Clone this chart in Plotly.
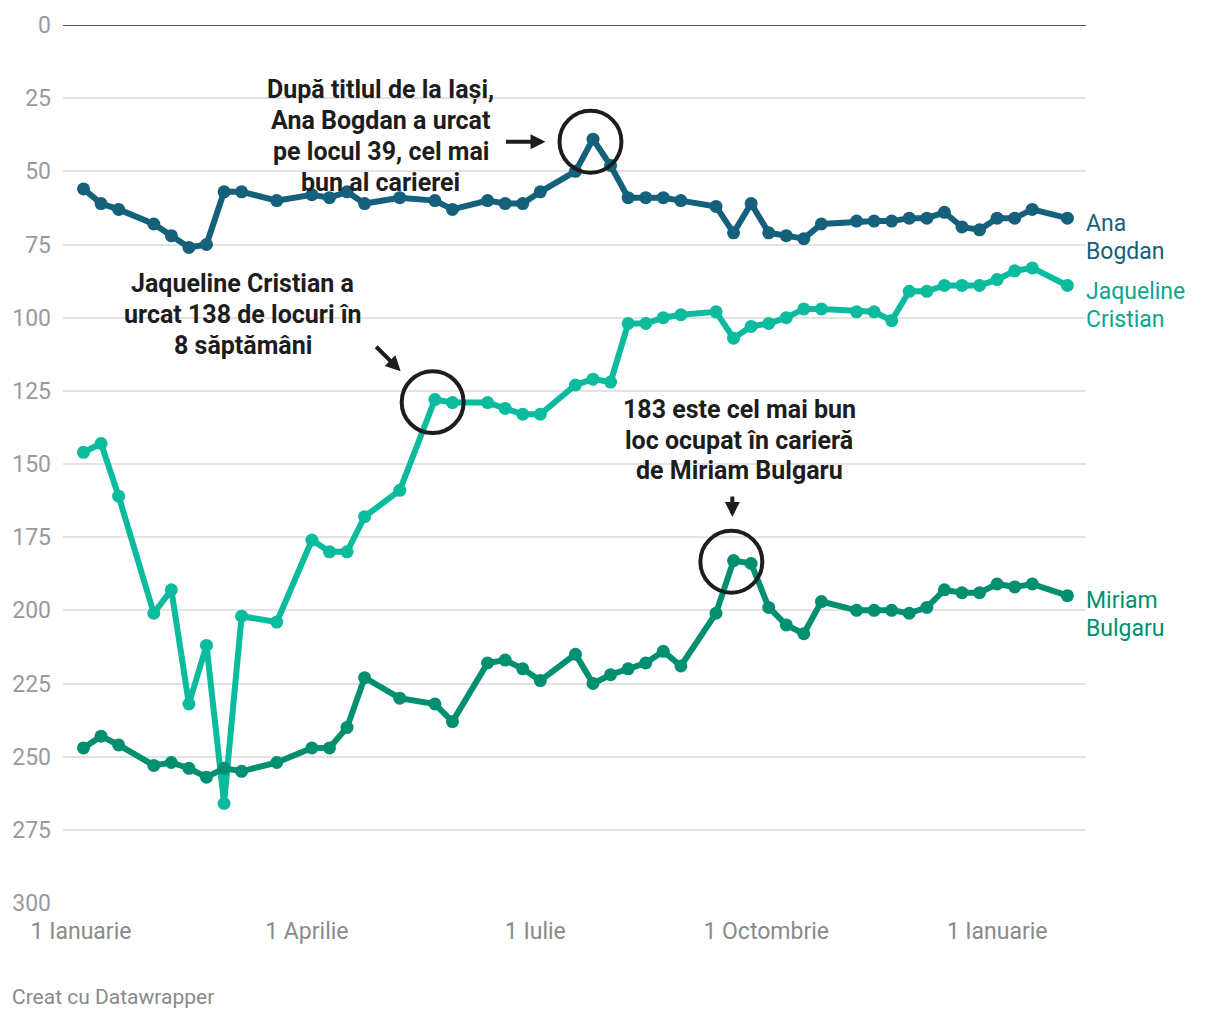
import plotly.graph_objects as go

dates = [
    "2023-01-02", "2023-01-09", "2023-01-16", "2023-01-30", "2023-02-06", "2023-02-13",
    "2023-02-20", "2023-02-27", "2023-03-06", "2023-03-20", "2023-04-03", "2023-04-10",
    "2023-04-17", "2023-04-24", "2023-05-08", "2023-05-22", "2023-05-29", "2023-06-12",
    "2023-06-19", "2023-06-26", "2023-07-03", "2023-07-17", "2023-07-24", "2023-07-31",
    "2023-08-07", "2023-08-14", "2023-08-21", "2023-08-28", "2023-09-11", "2023-09-18",
    "2023-09-25", "2023-10-02", "2023-10-09", "2023-10-16", "2023-10-23", "2023-11-06",
    "2023-11-13", "2023-11-20", "2023-11-27", "2023-12-04", "2023-12-11", "2023-12-18",
    "2023-12-25", "2024-01-01", "2024-01-08", "2024-01-15", "2024-01-29",
]

ana_bogdan = [
    56, 61, 63, 68, 72, 76, 75, 57, 57, 60, 58, 59, 57, 61, 59, 60, 63, 60, 61, 61,
    57, 50, 39, 48, 59, 59, 59, 60, 62, 71, 61, 71, 72, 73, 68, 67, 67, 67, 66, 66,
    64, 69, 70, 66, 66, 63, 66,
]

jaqueline_cristian = [
    146, 143, 161, 201, 193, 232, 212, 266, 202, 204, 176, 180, 180, 168, 159, 128,
    129, 129, 131, 133, 133, 123, 121, 122, 102, 102, 100, 99, 98, 107, 103, 102,
    100, 97, 97, 98, 98, 101, 91, 91, 89, 89, 89, 87, 84, 83, 89,
]

miriam_bulgaru = [
    247, 243, 246, 253, 252, 254, 257, 254, 255, 252, 247, 247, 240, 223, 230, 232,
    238, 218, 217, 220, 224, 215, 225, 222, 220, 218, 214, 219, 201, 183, 184, 199,
    205, 208, 197, 200, 200, 200, 201, 199, 193, 194, 194, 191, 192, 191, 195,
]

tick_dates = ["2023-01-01", "2023-04-01", "2023-07-01", "2023-10-01", "2024-01-01"]
tick_labels = ["1 Ianuarie", "1 Aprilie", "1 Iulie", "1 Octombrie", "1 Ianuarie"]
y_ticks = [0, 25, 50, 75, 100, 125, 150, 175, 200, 225, 250, 275, 300]

series = [
    ("Ana Bogdan", ana_bogdan, "#15607a", "#15607a", ["Ana", "Bogdan"], 236),
    ("Jaqueline Cristian", jaqueline_cristian, "#0abb9e", "#0aa68b", ["Jaqueline", "Cristian"], 304),
    ("Miriam Bulgaru", miriam_bulgaru, "#008f71", "#008f71", ["Miriam", "Bulgaru"], 614),
]

# plot area in pixels
L, R, T, B = 62, 1086, 23, 903
W, H = R - L, B - T


def px(x):
    return (x - L) / W


def py(y):
    return (B - y) / H


fig = go.Figure()
annotations = []
shapes = []

for name, vals, color, lcolor, label_lines, label_y in series:
    fig.add_trace(go.Scatter(
        x=dates, y=vals, name=name, mode="lines+markers",
        line=dict(color=color, width=6),
        marker=dict(color=color, size=13),
        connectgaps=True, showlegend=False,
    ))
    for i, t in enumerate(label_lines):
        annotations.append(dict(
            text=t, xref="paper", yref="paper", x=px(1084), y=py(label_y - 14 + 28 * i),
            xanchor="left", yanchor="middle", showarrow=False,
            font=dict(family="Roboto", size=23, color=lcolor),
        ))

notes = [
    (380, [88, 119, 150, 181], ["După titlul de la Iași,", "Ana Bogdan a urcat",
                                 "pe locul 39, cel mai", "bun al carierei"]),
    (242, [282, 313, 344], ["Jaqueline Cristian a", "urcat 138 de locuri în", "8 săptămâni"]),
    (739, [408, 439, 470], ["183 este cel mai bun", "loc ocupat în carieră", "de Miriam Bulgaru"]),
]
for cx, ys, lines in notes:
    for yy, t in zip(ys, lines):
        annotations.append(dict(
            text=t, xref="paper", yref="paper", x=px(cx), y=py(yy),
            xanchor="center", yanchor="middle", showarrow=False,
            font=dict(family="Roboto", size=25, color="#1d1d1d", weight="bold"),
        ))

arrows = [((504, 140), (545, 140)), ((374, 344), (400, 370)), ((732, 494), (732, 516))]
for (tx, ty), (hx, hy) in arrows:
    annotations.append(dict(
        text="", xref="paper", yref="paper", x=px(hx), y=py(hy),
        ax=tx - hx, ay=ty - hy, axref="pixel", ayref="pixel",
        showarrow=True, arrowhead=2, arrowsize=0.75, arrowwidth=4, arrowcolor="#1d1d1d",
    ))

circles = [(590, 140), (432, 401), (731, 561)]
for cx, cy in circles:
    r = 31
    shapes.append(dict(
        type="circle", xref="paper", yref="paper",
        x0=px(cx - r), x1=px(cx + r), y0=py(cy + r), y1=py(cy - r),
        line=dict(color="#1d1d1d", width=4),
    ))

shapes.append(dict(type="line", xref="paper", yref="y", x0=0, x1=1, y0=0, y1=0,
                   line=dict(color="#1d1d1d", width=1.5)))

annotations.append(dict(
    text="Creat cu Datawrapper", xref="paper", yref="paper", x=px(9), y=py(997),
    xanchor="left", yanchor="middle", showarrow=False,
    font=dict(family="Roboto", size=21, color="#8a8a8a"),
))

fig.update_layout(
    width=1220, height=1020,
    margin=dict(l=L, r=1220 - R, t=T, b=1020 - B),
    paper_bgcolor="white", plot_bgcolor="white",
    font=dict(family="Roboto"),
    annotations=annotations, shapes=shapes,
    xaxis=dict(
        type="date", range=["2022-12-24 20:00", "2024-02-05 10:00"],
        tickvals=tick_dates, ticktext=tick_labels,
        showgrid=False, zeroline=False, showline=False, ticks="",
        tickfont=dict(family="Roboto", size=23, color="#8a8a8a"),
        ticklabelstandoff=12,
    ),
    yaxis=dict(
        range=[300, 0], tickvals=y_ticks,
        showgrid=True, gridcolor="#e3e3e3", gridwidth=1.5,
        zeroline=False, showline=False, ticks="",
        tickfont=dict(family="Roboto", size=23, color="#9a9a9a"),
        ticklabelstandoff=11,
    ),
)

fig.write_html("out.html")
